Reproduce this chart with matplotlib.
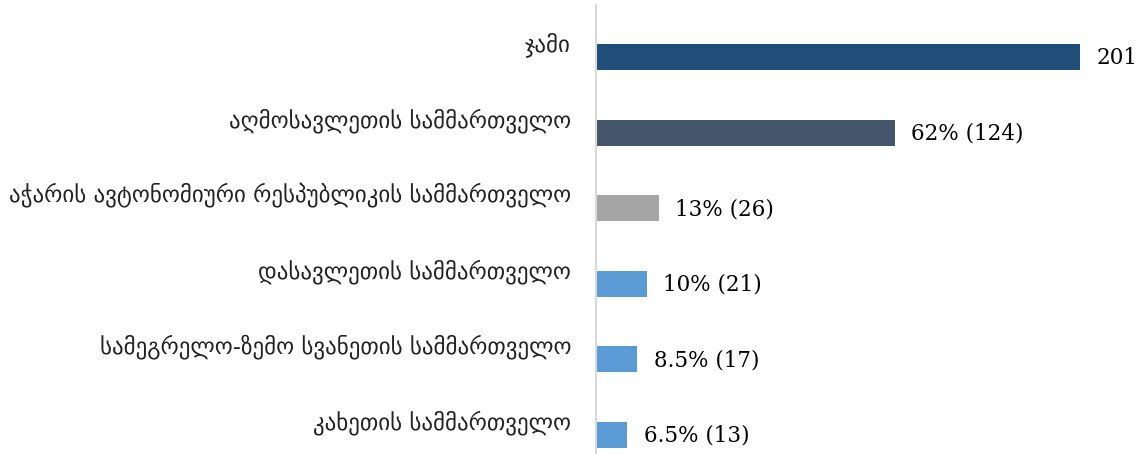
import matplotlib
matplotlib.use("Agg")
import matplotlib.pyplot as plt
from matplotlib.transforms import ScaledTranslation

categories = [
    "ჯამი",
    "აღმოსავლეთის სამმართველო",
    "აჭარის ავტონომიური რესპუბლიკის სამმართველო",
    "დასავლეთის სამმართველო",
    "სამეგრელო-ზემო სვანეთის სამმართველო",
    "კახეთის სამმართველო",
]
counts = [201, 124, 26, 21, 17, 13]
percent_labels = ["", "62%", "13%", "10%", "8.5%", "6.5%"]
colors = ["#1F4E79", "#44546A", "#A5A5A5", "#5B9BD5", "#5B9BD5", "#5B9BD5"]

W, H = 1138, 454
fig = plt.figure(figsize=(W / 100, H / 100), dpi=100)
ax = fig.add_axes([596 / W, 0, 1 - 596 / W, 449 / H])

y = list(range(len(categories)))
ax.barh(y, counts, height=0.344, color=colors, zorder=2)

ax.set_xlim(0, 225.1)
ax.set_ylim(5.258, -0.689)

for i, (c, p) in enumerate(zip(counts, percent_labels)):
    txt = f"{p} ({c})" if p else f"{c}"
    ax.annotate(txt, xy=(c, i), xytext=(12, -1), textcoords="offset points",
                ha="left", va="center", fontsize=15.5, family="DejaVu Serif",
                color="#000000")

ax.set_yticks(y)
ax.set_yticklabels(categories, fontsize=16.5, family="DejaVu Sans", color="#222222")
ax.tick_params(axis="y", length=0, pad=18)
ax.tick_params(axis="x", bottom=False, labelbottom=False)
offset = ScaledTranslation(0, 15 / 100, fig.dpi_scale_trans)
for lbl in ax.get_yticklabels():
    lbl.set_transform(lbl.get_transform() + offset)

for s in ["top", "right", "bottom"]:
    ax.spines[s].set_visible(False)
ax.spines["left"].set_color("#D9D9D9")
ax.spines["left"].set_linewidth(1.5)

fig.savefig("out.png", dpi=100)
